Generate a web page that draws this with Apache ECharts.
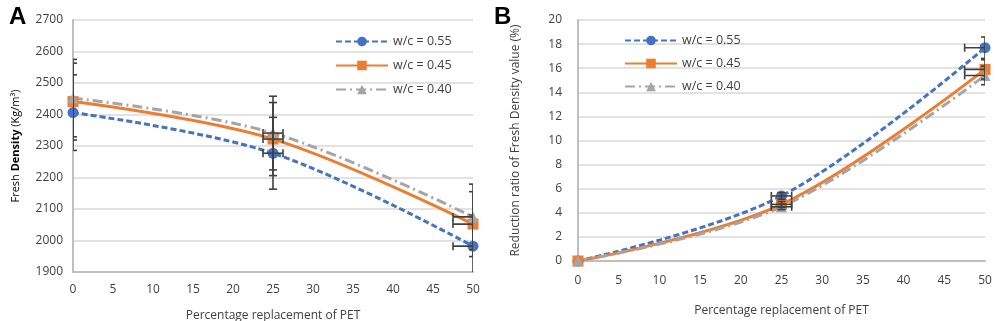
<!DOCTYPE html>
<html>
<head>
<meta charset="utf-8">
<script src="https://cdn.jsdelivr.net/npm/echarts@6/dist/echarts.min.js"></script>
<style>
  html, body { margin: 0; padding: 0; background: #fff; }
  #chart { width: 996px; height: 321px; }
</style>
</head>
<body>
<div id="chart"></div>
<script>
// x positions (percentage replacement of PET)
const pet = [0, 25, 50];
const xErr = [0, 1.25, 2.5];

// panel A - fresh density (kg/m3)
const densWc55 = [2406, 2277, 1982];
const densWc45 = [2441, 2322, 2052];
const densWc40 = [2452, 2341, 2075];
const densErr55 = [120, 114, 99];
const densErr45 = [122, 116, 103];
const densErr40 = [123, 117, 104];

// panel B - reduction ratio (%)
const redWc55 = [0, 5.4, 17.7];
const redWc45 = [0, 4.7, 15.9];
const redWc40 = [0, 4.5, 15.4];
const redErr55 = [0, 0.27, 0.89];
const redErr45 = [0, 0.24, 0.8];
const redErr40 = [0, 0.23, 0.77];

const names = ['w/c = 0.55', 'w/c = 0.45', 'w/c = 0.40'];
const FONT = 'Open Sans';
const txt = '#404040';

let myChart = echarts.init(document.getElementById('chart'));

// style of each w/c series
const looks = [
    { color: '#4472c4', symbol: 'circle', symbolSize: 11, line: [6, 3] },
    { color: '#ed7d31', symbol: 'rect', symbolSize: 11, line: 'solid' },
    { color: '#a5a5a5', symbol: 'triangle', symbolSize: 11, line: [10, 4, 2, 4] }
];

function pairs(ys) {
    return pet.map(function (x, i) { return [x, ys[i]]; });
}

function lineSeries(idx, ys, look, name) {
    return {
        name: name,
        type: 'line',
        xAxisIndex: idx,
        yAxisIndex: idx,
        smooth: 0.35,
        symbol: look.symbol,
        symbolSize: look.symbolSize,
        showAllSymbol: true,
        z: 2,
        itemStyle: { color: look.color },
        lineStyle: { color: look.color, width: 3, type: look.line },
        data: pairs(ys)
    };
}

// error bars (x and y) drawn with a custom series
function errSeries(idx, ys, errs) {
    let data = pet.map(function (x, i) { return [x, ys[i], xErr[i], errs[i]]; });
    return {
        type: 'custom',
        xAxisIndex: idx,
        yAxisIndex: idx,
        clip: true,
        silent: true,
        z: 5,
        encode: { x: 0, y: 1 },
        renderItem: function (params, api) {
            let x = api.value(0), y = api.value(1), ex = api.value(2), ey = api.value(3);
            let st = { stroke: '#404040', lineWidth: 1.6 };
            let cap = 4;
            let kids = [];
            if (ey > 0) {
                let top = api.coord([x, y + ey]);
                let bot = api.coord([x, y - ey]);
                kids.push({ type: 'line', shape: { x1: top[0], y1: top[1], x2: bot[0], y2: bot[1] }, style: st });
                kids.push({ type: 'line', shape: { x1: top[0] - cap, y1: top[1], x2: top[0] + cap, y2: top[1] }, style: st });
                kids.push({ type: 'line', shape: { x1: bot[0] - cap, y1: bot[1], x2: bot[0] + cap, y2: bot[1] }, style: st });
            }
            if (ex > 0) {
                let l = api.coord([x - ex, y]);
                let r = api.coord([x + ex, y]);
                kids.push({ type: 'line', shape: { x1: l[0], y1: l[1], x2: r[0], y2: r[1] }, style: st });
                kids.push({ type: 'line', shape: { x1: l[0], y1: l[1] - cap, x2: l[0], y2: l[1] + cap }, style: st });
                kids.push({ type: 'line', shape: { x1: r[0], y1: r[1] - cap, x2: r[0], y2: r[1] + cap }, style: st });
            }
            return { type: 'group', children: kids };
        },
        data: data
    };
}

function plain(v) {
    return String(v);
}

function xAxis(idx, labelMargin, gap) {
    return {
        type: 'value',
        gridIndex: idx,
        min: 0, max: 50, interval: 5,
        name: 'Percentage replacement of PET',
        nameLocation: 'middle',
        nameGap: gap,
        nameTextStyle: { color: txt, fontSize: 12, fontFamily: FONT },
        axisLine: { show: true, lineStyle: { color: '#bfbfbf', width: 2 } },
        axisTick: { show: false },
        splitLine: { show: false },
        axisLabel: { color: txt, fontSize: 12, fontFamily: FONT, margin: labelMargin, formatter: plain }
    };
}

let option = {
    animation: false,
    backgroundColor: '#fff',
    title: [
        { text: 'A', left: 4, top: 0, textStyle: { fontSize: 24, fontWeight: 'bold', color: '#000', fontFamily: 'Liberation Sans' } },
        { text: 'B', left: 489, top: 0, textStyle: { fontSize: 24, fontWeight: 'bold', color: '#000', fontFamily: 'Liberation Sans' } }
    ],
    legend: [
        {
            data: names, orient: 'vertical', left: 330, top: 30, itemGap: 11,
            itemWidth: 52, itemHeight: 12,
            textStyle: { color: txt, fontSize: 12.5, fontFamily: FONT }
        },
        // panel B (series names carry a trailing space to keep them apart)
        {
            data: names.map(function (n) { return n + ' '; }),
            orient: 'vertical', left: 619, top: 29, itemGap: 10,
            itemWidth: 52, itemHeight: 12,
            textStyle: { color: txt, fontSize: 12.5, fontFamily: FONT }
        }
    ],
    grid: [
        { left: 73, right: 523, top: 20, bottom: 49, outerBoundsMode: 'none' },
        { left: 578, right: 11, top: 20, bottom: 60, outerBoundsMode: 'none' }
    ],
    xAxis: [xAxis(0, 12, 38), xAxis(1, 14, 44)],
    yAxis: [
        {
            type: 'value', gridIndex: 0,
            min: 1900, max: 2700, interval: 100,
            name: 'Fresh {b|Density} (Kg/m³)',
            nameLocation: 'middle', nameGap: 52,
            nameTextStyle: {
                color: '#000', fontSize: 11, fontFamily: FONT,
                rich: { b: { fontWeight: 'bold', fontSize: 11, fontFamily: FONT, color: '#000' } }
            },
            axisLine: { show: true, lineStyle: { color: '#bfbfbf', width: 2 } },
            axisTick: { show: false },
            splitLine: { lineStyle: { color: '#d9d9d9', width: 1.5 } },
            axisLabel: { color: txt, fontSize: 12, fontFamily: FONT, margin: 10, formatter: plain }
        },
        {
            type: 'value', gridIndex: 1,
            min: 0, max: 20, interval: 2,
            name: 'Reduction ratio of Fresh Density value (%)',
            nameLocation: 'middle', nameGap: 56,
            nameTextStyle: { color: txt, fontSize: 12, fontFamily: FONT },
            axisLine: { show: true, lineStyle: { color: '#bfbfbf', width: 2 } },
            axisTick: { show: false },
            splitLine: { lineStyle: { color: '#d9d9d9', width: 1.5 } },
            axisLabel: { color: txt, fontSize: 12, fontFamily: FONT, margin: 16, formatter: plain }
        }
    ],
    series: [
        lineSeries(0, densWc55, looks[0], names[0]),
        lineSeries(0, densWc45, looks[1], names[1]),
        lineSeries(0, densWc40, looks[2], names[2]),
        errSeries(0, densWc55, densErr55),
        errSeries(0, densWc45, densErr45),
        errSeries(0, densWc40, densErr40),
        lineSeries(1, redWc55, looks[0], names[0] + ' '),
        lineSeries(1, redWc45, looks[1], names[1] + ' '),
        lineSeries(1, redWc40, looks[2], names[2] + ' '),
        errSeries(1, redWc55, redErr55),
        errSeries(1, redWc45, redErr45),
        errSeries(1, redWc40, redErr40)
    ]
};

myChart.setOption(option);

window.addEventListener('resize', function () {
    myChart.resize();
});
</script>
</body>
</html>
